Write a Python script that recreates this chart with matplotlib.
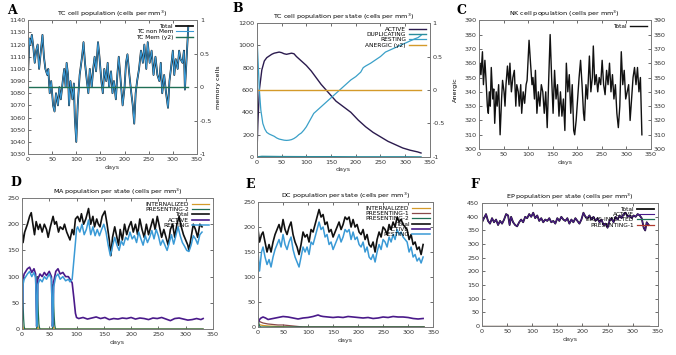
import matplotlib
matplotlib.use('Agg')
import matplotlib.pyplot as plt

# ---- A: TC cell population ----
a_days = [0,3,5,8,11,14,17,20,23,26,30,33,36,40,42,45,48,52,55,58,62,65,68,72,75,78,80,83,85,88,
          92,95,97,100,103,107,112,115,118,122,125,128,132,135,138,141,145,148,152,155,158,162,165,168,172,175,178,182,185,188,
          192,196,200,203,206,210,214,217,220,223,226,230,234,238,241,245,248,252,256,260,264,268,272,275,278,282,286,290,293,296,
          300,303,306,310,313,316,320,323,325,328,332]
a_total = [1095,1125,1120,1128,1118,1105,1115,1120,1100,1112,1128,1110,1100,1095,1100,1080,1090,1070,1065,1080,
           1070,1085,1075,1090,1100,1085,1105,1095,1070,1090,1075,1088,1060,1040,1070,1095,1110,1122,1105,1090,
           1080,1100,1085,1100,1110,1098,1122,1110,1090,1080,1100,1090,1105,1085,1098,1080,1090,1075,1095,1110,
           1090,1070,1085,1105,1112,1095,1080,1070,1055,1080,1090,1100,1115,1105,1120,1100,1122,1105,1115,1095,
           1110,1095,1090,1105,1080,1095,1080,1068,1090,1100,1115,1095,1108,1100,1115,1108,1105,1115,1083,1105,1135]
a_nonmem = a_total
a_mem_days = [0, 332]
a_mem = [0, 0]

# ---- B: TC cell population per state ----
b_act_days = [0,2,5,10,15,20,25,30,35,40,45,50,55,60,65,70,75,80,90,100,
              110,120,130,140,150,160,175,190,205,220,235,250,265,280,295,310,325,332]
b_active = [0,300,600,780,860,890,905,920,930,935,940,935,925,920,925,930,925,900,860,820,
            770,710,650,600,550,500,450,400,330,270,220,180,140,110,80,60,45,35]
b_rest_days = [0,2,5,8,12,16,20,25,30,35,40,45,50,55,60,65,70,75,80,85,90,95,100,105,110,115,120,125,130,135,
               140,150,160,170,180,190,200,210,215,220,230,240,250,260,270,280,290,300,310,320,326,332]
b_resting = [1100,900,600,420,300,250,220,205,195,185,170,160,155,150,148,150,155,165,180,200,
             215,240,270,310,350,390,410,430,450,470,490,530,570,610,650,690,720,760,800,815,
             840,870,900,940,960,980,1000,1020,1040,1060,1070,1090]
b_dup_days = [0,10,50,100,150,200,250,300,332]
b_duplicating = [0,5,3,2,2,1,1,1,0]
b_anergic_days = [0, 332]
b_anergic = [0, 0]

# ---- C: NK cell population ----
c_days = [0,2,4,7,9,12,14,17,19,21,23,25,28,30,32,35,37,40,43,46,48,51,53,55,58,61,63,66,69,72,
          75,77,80,82,85,87,90,93,96,98,102,105,108,110,113,115,118,121,124,127,130,133,136,139,142,145,148,151,154,157,
          160,163,166,169,172,175,178,181,184,187,190,193,195,198,201,204,207,210,213,215,218,221,225,228,231,233,236,239,242,245,
          248,251,254,257,260,263,266,269,272,275,278,281,284,287,290,293,296,299,302,305,308,311,314,317,320,323,326,329,332]
c_total = [345,360,352,368,345,362,350,330,325,340,330,357,335,342,318,340,330,345,310,335,
           348,340,330,345,358,345,360,340,350,355,330,345,340,330,345,325,340,332,345,348,
           376,360,345,350,335,355,325,340,330,345,340,325,340,315,348,380,350,325,355,335,
           345,323,340,323,335,313,360,340,352,325,345,313,310,320,335,350,362,345,325,320,
           345,335,365,340,350,372,345,352,340,350,345,362,345,338,355,345,360,340,352,335,
           345,325,315,330,368,345,355,335,340,345,320,335,350,357,345,357,340,350,310]

# ---- D: MA population per state ----
d_tot_days = [0,2,5,10,14,17,20,23,26,30,33,37,41,45,48,52,57,60,63,67,70,75,78,82,88,92,95,98,102,106,
              109,113,117,122,126,130,133,137,140,143,147,152,156,160,163,166,170,173,177,180,184,188,192,196,200,204,208,212,216,220,
              224,228,232,236,240,244,248,252,256,260,264,268,272,276,280,284,288,292,296,300,304,306,310,314,318,322,326,330]
d_total = [190,165,185,200,215,222,200,180,205,190,200,185,200,190,175,195,215,200,205,185,
           195,190,200,185,170,190,180,210,215,205,220,200,210,230,200,215,195,210,200,195,
           215,225,200,170,140,175,195,180,160,190,170,200,180,195,205,185,200,180,210,190,
           175,200,180,195,210,190,215,195,175,190,175,160,190,200,175,200,215,195,180,170,
           160,150,175,200,190,175,200,195]
d_rest_days = [0,2,4,7,10,14,18,22,25,27,28,29,33,37,41,45,50,54,56,57,58,62,66,70,75,80,85,88,92,95,98,100,
               102,106,110,114,118,122,126,130,134,138,142,146,150,154,158,162,166,170,174,178,
               182,186,190,194,198,202,206,210,214,218,222,226,230,234,238,242,246,250,254,258,
               262,266,270,274,278,282,286,290,294,298,302,306,310,314,318,322,326,330]
d_resting = [0,85,95,100,105,110,100,108,98,5,40,85,95,90,100,95,105,95,5,30,80,100,105,95,100,92,95,90,95,130,165,190,
             195,185,200,180,190,208,180,195,178,190,178,190,200,185,160,140,158,175,160,150,
             168,160,175,170,185,172,178,165,185,172,160,178,165,175,188,172,190,178,160,170,
             160,150,165,180,162,178,195,178,165,158,150,148,160,178,172,162,180,185]
d_act_days = [0,2,4,7,10,14,18,22,25,27,28,29,33,37,41,45,50,54,56,57,58,62,66,70,75,80,85,88,92,95,98,100,
              104,112,120,128,136,144,152,160,168,176,184,192,200,208,216,224,232,240,248,256,
              264,272,280,288,296,304,312,320,328,332]
d_active = [0,95,105,110,115,118,108,115,105,5,40,95,105,100,108,102,110,100,5,30,90,110,115,105,108,100,100,95,88,60,30,22,
            20,22,19,21,23,20,22,18,20,19,21,20,22,19,21,20,18,21,20,22,
            19,16,20,21,19,17,18,20,18,20]
d_pres2_days = [0,1,2,3,4,5,27,28,29,30,31,32,33,56,57,58,59,60,61,62,100,332]
d_presenting2 = [130,90,50,20,5,0,0,100,60,30,10,3,0,0,85,50,25,8,2,0,0,0]
d_int_days = [0,1,2,3,4,27,28,29,30,56,57,58,59,332]
d_internalized = [20,10,3,0,0,0,15,5,0,0,12,4,0,0]

# ---- E: DC population per state ----
e_days = [0,3,7,10,14,18,22,26,30,34,38,42,46,50,54,58,62,66,70,74,78,82,86,90,94,98,102,106,110,114,
          118,122,126,130,134,138,142,146,150,154,158,162,166,170,174,178,182,186,190,194,
          198,202,206,210,214,218,222,226,230,234,238,242,246,250,254,258,262,266,270,274,
          278,282,286,290,294,298,302,306,310,314,318,322,326,330]
e_total = [195,170,185,190,170,150,165,150,170,185,195,205,190,215,195,185,200,210,185,170,
           160,145,165,190,180,185,170,195,190,205,220,235,220,225,205,210,190,195,180,190,
           200,210,195,205,220,215,220,200,215,200,205,190,185,195,175,185,165,160,170,150,
           175,190,180,200,195,185,205,195,210,200,220,210,215,205,200,195,175,185,165,170,
           155,160,145,165]
e_resting = [150,112,150,160,140,125,135,120,140,155,165,175,160,185,165,155,170,180,155,140,
             130,120,140,160,150,160,145,170,165,180,195,210,195,200,180,185,165,170,155,165,
             175,185,170,180,195,190,195,175,190,175,180,165,160,170,150,160,140,135,145,130,
             150,165,155,175,170,160,180,170,185,175,195,185,190,180,175,170,150,160,140,145,
             132,138,128,140]
e_act_days = [0,3,6,10,15,20,25,30,40,50,60,70,80,90,100,110,120,125,130,140,
              150,160,170,180,190,200,210,220,230,240,250,260,270,280,290,300,310,320,330]
e_active = [8,15,18,20,18,15,16,17,19,21,20,18,16,18,19,21,24,22,21,20,
            19,20,19,21,20,19,18,19,17,18,20,19,21,20,20,19,17,16,17]
e_pres1_days = [0,2,5,10,20,30,40,50,60,70,80,90,332]
e_presenting1 = [15,12,10,8,6,5,4,4,3,2,1,0,0]
e_int_days = [0,2,5,10,20,40,60,332]
e_internalized = [6,5,4,3,2,1,0,0]
e_pres2_days = [0,1,2,3,5,332]
e_presenting2 = [25,15,5,2,0,0]

# ---- F: EP population per state ----
f_days = [0,4,8,12,16,20,24,28,32,36,40,44,48,52,55,58,62,66,70,74,78,82,86,90,94,98,102,106,110,114,
          118,122,126,130,134,138,142,146,150,154,158,162,166,170,174,178,182,186,190,194,
          198,202,206,210,214,218,222,226,230,234,238,242,246,250,254,258,262,266,270,274,
          278,282,286,290,294,298,302,306,310,314,318,322,325,328,332]
f_total = [380,395,410,385,375,395,380,390,370,385,375,390,410,405,370,400,380,370,365,380,
           390,380,400,395,410,400,415,395,405,385,395,380,390,385,395,380,385,375,395,385,
           400,390,385,395,375,390,380,395,385,375,390,415,400,395,405,390,400,385,395,380,
           390,370,375,360,385,395,380,400,390,405,395,410,415,400,405,395,405,400,410,405,
           395,360,350,380,370]
f_active = f_total
f_zero_days = [0, 332]
f_infected = [0, 0]
f_presenting1 = [0, 0]

BLACK = '#111111'
PURPLE = '#4a1a8a'
BLUE = '#3a9ad6'
GREEN = '#1f6f55'
ORANGE = '#d49a2a'
FS = 4.6

fig = plt.figure(figsize=(6.76, 3.55), dpi=100)


def style(ax, xlim=(0, 350), mirror_y=True):
    ax.set_xlim(*xlim)
    ax.set_xticks(range(0, 351, 50))
    for s in ax.spines.values():
        s.set_color('#7a7a7a')
        s.set_linewidth(0.7)
    ax.tick_params(direction='in', length=2.5, width=0.5, labelsize=FS,
                   colors='#333333', top=True, right=mirror_y, pad=2)
    ax.set_xlabel('days', fontsize=FS, labelpad=2, color='#333333')


def legend(ax, **kw):
    ax.legend(loc='upper right', frameon=False, markerfirst=False, fontsize=FS - 0.4,
              handlelength=3.0, labelspacing=0.05, borderaxespad=0.2, handletextpad=0.5, **kw)


def panel_letter(x, y, s):
    fig.text(x / 676, 1 - y / 355, s, fontsize=9, fontweight='bold', family='DejaVu Serif',
             va='center', ha='left')


# A
ax = fig.add_axes([0.0414, 0.566, 0.25, 0.377])
ax.plot(a_days, a_total, color=BLACK, lw=1.3, label='Total')
ax.plot(a_days, a_nonmem, color=BLUE, lw=0.8, label='TC non Mem')
ax.plot([], [], color=GREEN, lw=1.0, label='TC Mem (y2)')
ax.set_ylim(1030, 1140)
ax.set_yticks(range(1030, 1141, 10))
style(ax, mirror_y=False)
ax.set_title('TC cell population (cells per mm$^3$)', fontsize=FS, pad=3)
ax2 = ax.twinx()
ax2.plot(a_mem_days, a_mem, color=GREEN, lw=1.0)
ax2.set_ylim(-1, 1)
ax2.set_yticks([-1, -0.5, 0, 0.5, 1])
ax2.set_yticklabels(['-1', '-0.5', '0', '0.5', '1'])
ax2.tick_params(direction='in', length=2.5, width=0.5, labelsize=FS, colors='#333333', pad=2)
ax2.set_ylabel('memory cells', fontsize=FS, labelpad=3)
for s in ax2.spines.values():
    s.set_color('#7a7a7a')
    s.set_linewidth(0.7)
legend(ax)
panel_letter(7, 10, 'A')

# B
ax = fig.add_axes([0.380, 0.558, 0.256, 0.377])
ax.plot(b_act_days, b_active, color='#2b1b4e', lw=1.0, label='ACTIVE')
ax.plot(b_dup_days, b_duplicating, color='#2a8c9c', lw=1.0, label='DUPLICATING')
ax.plot(b_rest_days, b_resting, color='#3aa0c8', lw=0.9, label='RESTING')
ax.plot([], [], color=ORANGE, lw=1.0, label='ANERGIC (y2)')
ax.set_ylim(0, 1200)
ax.set_yticks(range(0, 1201, 200))
style(ax, mirror_y=False)
ax.set_title('TC cell population per state (cells per mm$^3$)', fontsize=FS, pad=3)
ax2 = ax.twinx()
ax2.plot(b_anergic_days, b_anergic, color=ORANGE, lw=1.0)
ax2.set_ylim(-1, 1)
ax2.set_yticks([-1, -0.5, 0, 0.5, 1])
ax2.set_yticklabels(['-1', '-0.5', '0', '0.5', '1'])
ax2.tick_params(direction='in', length=2.5, width=0.5, labelsize=FS, colors='#333333', pad=2)
ax2.set_ylabel('Anergic', fontsize=FS, labelpad=6)
for s in ax2.spines.values():
    s.set_color('#7a7a7a')
    s.set_linewidth(0.7)
legend(ax)
panel_letter(232, 8, 'B')

# C
ax = fig.add_axes([0.7086, 0.580, 0.254, 0.363])
ax.plot(c_days, c_total, color=BLACK, lw=1.0, label='Total')
ax.set_ylim(300, 390)
ax.set_yticks(range(300, 391, 10))
style(ax)
ax.tick_params(labelright=True)
ax.set_title('NK cell population (cells per mm$^3$)', fontsize=FS, pad=3)
legend(ax)
panel_letter(457, 10, 'C')

# D
ax = fig.add_axes([0.0325, 0.0732, 0.2825, 0.369])
ax.plot(d_int_days, d_internalized, color=ORANGE, lw=0.9, label='INTERNALIZED')
ax.plot(d_pres2_days, d_presenting2, color=GREEN, lw=0.9, label='PRESENTING-2')
ax.plot(d_tot_days, d_total, color=BLACK, lw=1.2, label='Total')
ax.plot(d_act_days, d_active, color=PURPLE, lw=1.2, label='ACTIVE')
ax.plot(d_rest_days, d_resting, color=BLUE, lw=1.1, label='RESTING')
ax.set_ylim(0, 250)
ax.set_yticks(range(0, 251, 50))
style(ax)
ax.set_title('MA population per state (cells per mm$^3$)', fontsize=FS, pad=3)
legend(ax)
panel_letter(10, 182, 'D')

# E
ax = fig.add_axes([0.3817, 0.0789, 0.259, 0.352])
ax.plot(e_int_days, e_internalized, color=ORANGE, lw=0.9, label='INTERNALIZED')
ax.plot(e_pres1_days, e_presenting1, color='#8a4a4a', lw=0.9, label='PRESENTING-1')
ax.plot(e_pres2_days, e_presenting2, color=GREEN, lw=0.9, label='PRESENTING-2')
ax.plot(e_days, e_total, color=BLACK, lw=1.2, label='Total')
ax.plot(e_act_days, e_active, color=PURPLE, lw=1.2, label='ACTIVE')
ax.plot(e_days, e_resting, color=BLUE, lw=1.1, label='RESTING')
ax.set_ylim(0, 250)
ax.set_yticks(range(0, 251, 50))
style(ax)
ax.set_title('DC population per state (cells per mm$^3$)', fontsize=FS, pad=3)
legend(ax)
panel_letter(245, 185, 'E')

# F
ax = fig.add_axes([0.713, 0.0817, 0.260, 0.346])
ax.plot(f_days, f_total, color=BLACK, lw=1.3, label='Total')
ax.plot(f_days, f_active, color=PURPLE, lw=0.8, label='ACTIVE')
ax.plot(f_zero_days, f_infected, color=GREEN, lw=0.9, label='VIRUS-INFECTED')
ax.plot(f_zero_days, f_presenting1, color='#b03a2e', lw=0.9, label='PRESENTING-1')
ax.set_ylim(0, 450)
ax.set_yticks(range(0, 451, 50))
style(ax)
ax.set_title('EP population per state (cells per mm$^3$)', fontsize=FS, pad=3)
legend(ax)
panel_letter(470, 185, 'F')

fig.savefig('out.png', dpi=100)
